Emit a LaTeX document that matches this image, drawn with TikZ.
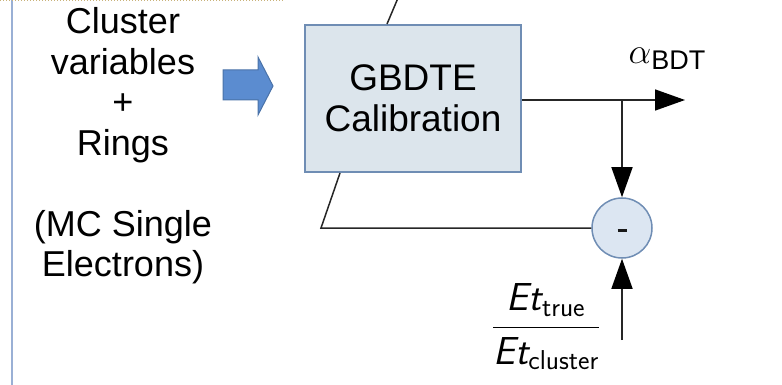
\RequirePackage{fix-cm}
\documentclass[tikz,border=0pt]{standalone}
\usepackage{amsmath}
\usepackage{fontspec}
\setmainfont{Liberation Sans}
\usetikzlibrary{arrows.meta}

\definecolor{boxfill}{HTML}{DCE5EC}
\definecolor{boxedge}{HTML}{6F8DB4}
\definecolor{circfill}{HTML}{DCE6F2}
\definecolor{arrowfill}{HTML}{5B8CD0}
\definecolor{arrowedge}{HTML}{4A72A8}
\definecolor{sidebar}{HTML}{9AB0D5}
\definecolor{dotline}{HTML}{C9B27A}

\begin{document}
\begin{tikzpicture}[x=1pt,y=-1pt,
  wire/.style={line width=1.5pt, draw=black!85},
  tip/.style={-{Triangle[length=30pt,width=21pt,fill=black,color=black]}},
  calbox/.style={draw=boxedge, fill=boxfill, line width=2pt,
    minimum width=216pt, minimum height=147pt, align=center,
    font=\fontsize{37}{41}\selectfont},
  diffnode/.style={circle, draw=boxedge, fill=circfill, line width=1.5pt,
    minimum size=60pt, inner sep=0pt},
  lbl/.style={align=center, font=\fontsize{36}{40.5}\selectfont},
  blockarrow/.style={fill=arrowfill, draw=arrowedge, line width=1pt}]

\useasboundingbox (0,0) rectangle (782,385);

% frame lines on the left and top
\draw[sidebar, line width=2pt] (12,0) -- (12,385);
\draw[dotline, line width=1pt, dotted] (0,1) -- (284,1);

% input description
\node[lbl] (inputs) at (123,85) {Cluster\\variables\\+\\Rings};
\node[lbl] (sample) at (123,247) {(MC Single\\Electrons)};

% block arrow into the calibration
\draw[blockarrow] (223,70) -- (258,70) -- (258,57) -- (273,86)
  -- (258,115) -- (258,100) -- (223,100) -- cycle;

% calibration block and difference node
\node[calbox] (gbdte) at (413,98.5) {GBDTE\\Calibration};
\node[diffnode] (minus) at (622,228) {};
\draw[black!90, line width=3pt] ([xshift=-4.5pt,yshift=-2pt]minus.center) -- ([xshift=4.5pt,yshift=-2pt]minus.center);

% output
\coordinate (split) at (622,100);
\coordinate (out) at (685,100);
\draw[wire,tip] (gbdte.east |- split) -- (out);
\node (alphalbl) at (667,59)
  {{\fontsize{36}{36}\selectfont$\alpha$}\raisebox{-6pt}{\fontsize{27}{27}\selectfont BDT}};
\draw[wire,tip] (split) -- (minus.north);

% target ratio
\coordinate (truth) at (622,340);
\draw[wire,tip] (truth) -- (minus.south);
\node (ratio) at (546,327)
  {\fontsize{39}{39}\selectfont
   $\dfrac{\text{\sffamily\slshape Et}_{\text{\sffamily true}}}
          {\text{\sffamily\slshape Et}_{\text{\sffamily cluster}}}$};

% feedback loop
\coordinate (bend) at (321,228);
\draw[wire] ([xshift=-73pt]gbdte.south) -- (bend) -- (minus.west);
\coordinate (topend) at (398,-2);
\draw[wire] ([xshift=-26pt]gbdte.north) -- (topend);
\end{tikzpicture}
\end{document}
